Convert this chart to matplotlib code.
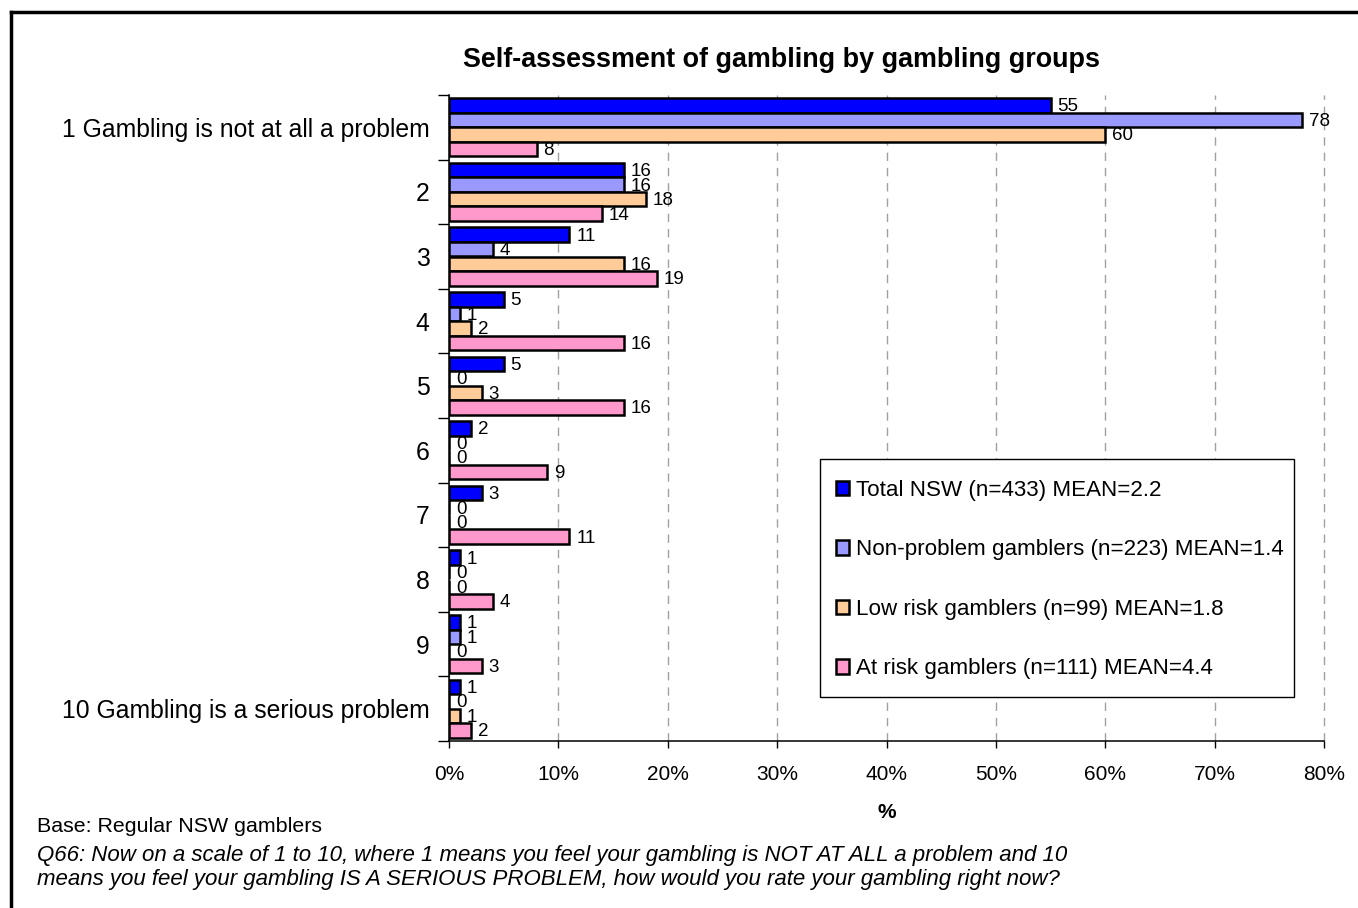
import matplotlib
matplotlib.use("Agg")
import matplotlib.pyplot as plt
from matplotlib.lines import Line2D
from matplotlib.patches import Rectangle
import numpy as np

plt.rcParams['font.family'] = ['Liberation Sans', 'DejaVu Sans']

categories = ["1 Gambling is not at all a problem", "2", "3", "4", "5", "6", "7", "8", "9",
              "10 Gambling is a serious problem"]
series_names = ["Total NSW (n=433) MEAN=2.2",
                "Non-problem gamblers (n=223) MEAN=1.4",
                "Low risk gamblers (n=99) MEAN=1.8",
                "At risk gamblers (n=111) MEAN=4.4"]
total_nsw = [55, 16, 11, 5, 5, 2, 3, 1, 1, 1]
non_problem = [78, 16, 4, 1, 0, 0, 0, 0, 1, 0]
low_risk = [60, 18, 16, 2, 3, 0, 0, 0, 0, 1]
at_risk = [8, 14, 19, 16, 16, 9, 11, 4, 3, 2]
series_values = [total_nsw, non_problem, low_risk, at_risk]
colors = ["#0000FF", "#9999FF", "#FFCC99", "#FF99CC"]
x_ticks = [0, 10, 20, 30, 40, 50, 60, 70, 80]

W, H = 1358, 908
fig = plt.figure(figsize=(W / 100, H / 100), dpi=100)
ax = fig.add_axes([449 / W, 1 - 741 / H, (1324 - 449) / W, (741 - 95) / H])

n = len(categories)
bar_h = 0.225
y_base = np.arange(n)
for i, (vals, col, name) in enumerate(zip(series_values, colors, series_names)):
    ypos = y_base - 1.5 * bar_h + i * bar_h
    bars = ax.barh(ypos, vals, height=bar_h, color=col, edgecolor="black",
                   linewidth=1.8, label=name, zorder=3)
    for b, v in zip(bars, vals):
        ax.annotate(f"{v}", xy=(v, b.get_y() + b.get_height() / 2),
                    xytext=(5, -1), textcoords="offset points",
                    ha="left", va="center", fontsize=13.5, zorder=4)

ax.set_xlim(0, 80)
ax.set_ylim(n - 0.5, -0.5)
ax.set_xticks(x_ticks)
ax.set_xticklabels([f"{t}%" for t in x_ticks], fontsize=15)
ax.tick_params(axis="x", length=5, width=1, pad=12, direction="out")

ax.set_yticks(y_base)
ax.set_yticklabels(categories, fontsize=17.8)
ax.tick_params(axis="y", which="major", length=0, pad=14)
ax.set_yticks(np.arange(n + 1) - 0.5, minor=True)
ax.tick_params(axis="y", which="minor", length=8, width=1, direction="out")

ax.xaxis.grid(True, linestyle=(0, (6, 5)), color="#A0A0A0", linewidth=1, zorder=0)
for gl in ax.get_xgridlines():
    gl.set_clip_on(False)
ax.set_axisbelow(True)
for s in ["top", "right"]:
    ax.spines[s].set_visible(False)
for s in ["left", "bottom"]:
    ax.spines[s].set_linewidth(1.1)
    ax.spines[s].set_color("black")

ax.set_xlabel("%", fontsize=15, fontweight="bold", labelpad=14)
fig.text(782 / W, 1 - 60 / H, "Self-assessment of gambling by gambling groups",
         fontsize=19.4, fontweight="bold", ha="center", va="center")

# legend box drawn as its own rectangle, entries placed inside it
fig.add_artist(Rectangle((820 / W, 1 - 697 / H), (1294 - 820) / W, (697 - 459) / H,
                         transform=fig.transFigure, facecolor="white",
                         edgecolor="black", linewidth=1, zorder=5))
leg = fig.legend(loc="upper left", bbox_to_anchor=(836 / W, 1 - 480 / H),
                 bbox_transform=fig.transFigure, fontsize=16.1, frameon=False,
                 labelspacing=1.72, handlelength=0.6, handleheight=0.6,
                 handletextpad=0.3, borderpad=0, borderaxespad=0)
leg.set_zorder(6)

fig.text(37 / W, 1 - 826 / H, "Base: Regular NSW gamblers", fontsize=15.4,
         ha="left", va="center")
fig.text(37 / W, 1 - 855 / H,
         "Q66: Now on a scale of 1 to 10, where 1 means you feel your gambling is NOT AT ALL a problem and 10",
         fontsize=16, style="italic", ha="left", va="center")
fig.text(37 / W, 1 - 880 / H,
         "means you feel your gambling IS A SERIOUS PROBLEM, how would you rate your gambling right now?",
         fontsize=16, style="italic", ha="left", va="center")

# outer frame lines along the top and left edges
fig.add_artist(Line2D([11 / W, 11 / W], [0, 1 - 12 / H], transform=fig.transFigure,
                      color="black", linewidth=2.5))
fig.add_artist(Line2D([11 / W, 1], [1 - 12 / H, 1 - 12 / H], transform=fig.transFigure,
                      color="black", linewidth=2.5))

fig.savefig("out.png", dpi=100)
